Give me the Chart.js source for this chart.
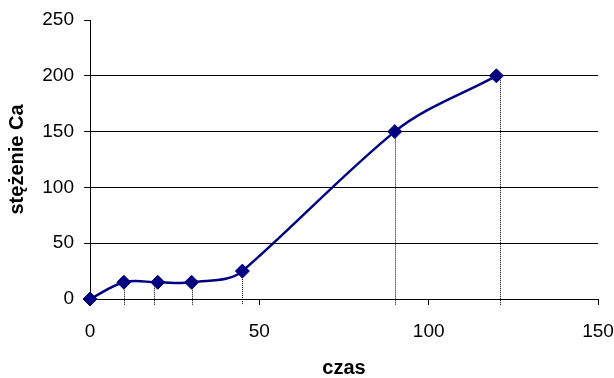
<!DOCTYPE html>
<html lang="pl">
  <head>
    <meta charset="utf-8" />
    <title>stężenie Ca</title>
    <style>
      * {
        margin: 0;
        padding: 0;
      }
      body {
        background: #fff;
      }
      .chartBox {
        width: 614px;
        height: 378px;
      }
    </style>
  </head>
  <body>
    <div class="chartBox">
      <canvas id="myChart"></canvas>
    </div>

    <script src="https://cdn.jsdelivr.net/npm/chart.js"></script>

    <script>
      // values
      const czas = [0, 10, 20, 30, 45, 90, 120];
      const stezenie = [0, 15, 15, 15, 25, 150, 200];

      // dotted drop lines (drawn by hand in the original, a bit off the points)
      const dropX = [10, 19, 30, 45, 90, 121];
      const dropY = [15, 15, 15, 25, 150, 200];

      const xTicks = [0, 50, 100, 150];
      const yTicks = [0, 50, 100, 150, 200, 250];

      const navy = "#000080";
      const fontFamily = "'Liberation Sans', Arial, sans-serif";

      // dotted lines from each point down past the x axis
      const dropLines = {
        id: "dropLines",
        beforeDatasetsDraw(chart) {
          const {
            ctx,
            scales: { x, y },
          } = chart;
          ctx.save();
          ctx.strokeStyle = "#000";
          ctx.lineWidth = 1;
          ctx.setLineDash([1, 1]);
          dropX.forEach((v, i) => {
            const px = Math.round(x.getPixelForValue(v)) + 0.5;
            ctx.beginPath();
            ctx.moveTo(px, y.getPixelForValue(dropY[i]));
            ctx.lineTo(px, y.getPixelForValue(0) + 6);
            ctx.stroke();
          });
          ctx.restore();
        },
      };

      // smoothing closer to the old Excel look: tangent leans to the longer
      // neighbouring segment, control points at a third of the segment
      function smoothLine(chart, meta) {
        const line = meta.dataset;
        const pts = meta.data;
        if (!line || pts.length < 2) return;
        if (line.updateControlPoints) line.updateControlPoints(chart.chartArea, "x");
        const n = pts.length;
        const seg = (a, b) => ({
          dx: b.x - a.x,
          dy: b.y - a.y,
          len: Math.hypot(b.x - a.x, b.y - a.y),
        });
        const tang = pts.map((p, i) => {
          let tx = 0;
          let ty = 0;
          if (i > 0) {
            const s = seg(pts[i - 1], p);
            tx += s.dx * s.len;
            ty += s.dy * s.len;
          }
          if (i < n - 1) {
            const s = seg(p, pts[i + 1]);
            tx += s.dx * s.len;
            ty += s.dy * s.len;
          }
          const l = Math.hypot(tx, ty) || 1;
          return { x: tx / l, y: ty / l };
        });
        for (let i = 0; i < n - 1; i++) {
          const p1 = pts[i];
          const p2 = pts[i + 1];
          const k = seg(p1, p2).len / 3;
          p1.cp2x = p1.x + tang[i].x * k;
          p1.cp2y = p1.y + tang[i].y * k;
          p2.cp1x = p2.x - tang[i + 1].x * k;
          p2.cp1y = p2.y - tang[i + 1].y * k;
        }
        line._path = undefined;
      }

      const excelSmooth = {
        id: "excelSmooth",
        afterDatasetsUpdate(chart) {
          chart.getSortedVisibleDatasetMetas().forEach((m) => smoothLine(chart, m));
        },
        beforeDatasetDraw(chart, args) {
          smoothLine(chart, args.meta);
        },
      };

      const data = {
        datasets: [
          {
            label: "stężenie Ca",
            data: czas.map((c, i) => ({ x: c, y: stezenie[i] })),
            borderColor: navy,
            backgroundColor: navy,
            borderWidth: 2.5,
            tension: 0.2,
            pointStyle: "rectRot",
            pointRadius: 7,
            pointBorderWidth: 1,
            pointBackgroundColor: navy,
            pointBorderColor: navy,
            clip: false,
          },
        ],
      };

      const config = {
        type: "line",
        data: data,
        options: {
          animation: false,
          responsive: true,
          maintainAspectRatio: false,
          layout: {
            padding: { top: 20, right: 16, left: 0, bottom: 0 },
          },
          plugins: {
            legend: { display: false },
            tooltip: { enabled: false },
          },
          scales: {
            x: {
              type: "linear",
              min: xTicks[0],
              max: xTicks[xTicks.length - 1],
              afterBuildTicks: (scale) => {
                scale.ticks = xTicks.map((v) => ({ value: v }));
              },
              afterFit: (scale) => {
                scale.height = 79;
                scale.paddingRight = 0;
                scale.paddingLeft = 0;
              },
              grid: {
                drawOnChartArea: false,
                color: "#000",
                tickLength: 6,
              },
              border: { color: "#000", width: 1 },
              ticks: {
                color: "#000",
                padding: 15,
                maxRotation: 0,
                font: { family: fontFamily, size: 19 },
              },
              title: {
                display: true,
                text: "czas",
                color: "#000",
                padding: { top: 0, bottom: 0 },
                font: { family: fontFamily, size: 20, weight: "bold", lineHeight: 1 },
              },
            },
            y: {
              type: "linear",
              min: yTicks[0],
              max: yTicks[yTicks.length - 1],
              afterBuildTicks: (scale) => {
                scale.ticks = yTicks.map((v) => ({ value: v }));
              },
              afterFit: (scale) => {
                scale.width = 90;
                scale.paddingTop = 0;
                scale.paddingBottom = 0;
              },
              grid: {
                color: (c) =>
                  c.tick && c.tick.value > 0 && c.tick.value < 250
                    ? "#000"
                    : "rgba(0,0,0,0)",
                tickColor: "#000",
                tickLength: 6,
              },
              border: { color: "#000", width: 1 },
              ticks: {
                color: "#000",
                padding: 10,
                font: { family: fontFamily, size: 19 },
              },
              title: {
                display: true,
                text: "stężenie Ca",
                color: "#000",
                padding: { top: 5, bottom: 0 },
                font: { family: fontFamily, size: 20, weight: "bold", lineHeight: 1.2 },
              },
            },
          },
        },
        plugins: [dropLines, excelSmooth],
      };

      const ctx = document.getElementById("myChart");
      const myChart = new Chart(ctx, config);
    </script>
  </body>
</html>
